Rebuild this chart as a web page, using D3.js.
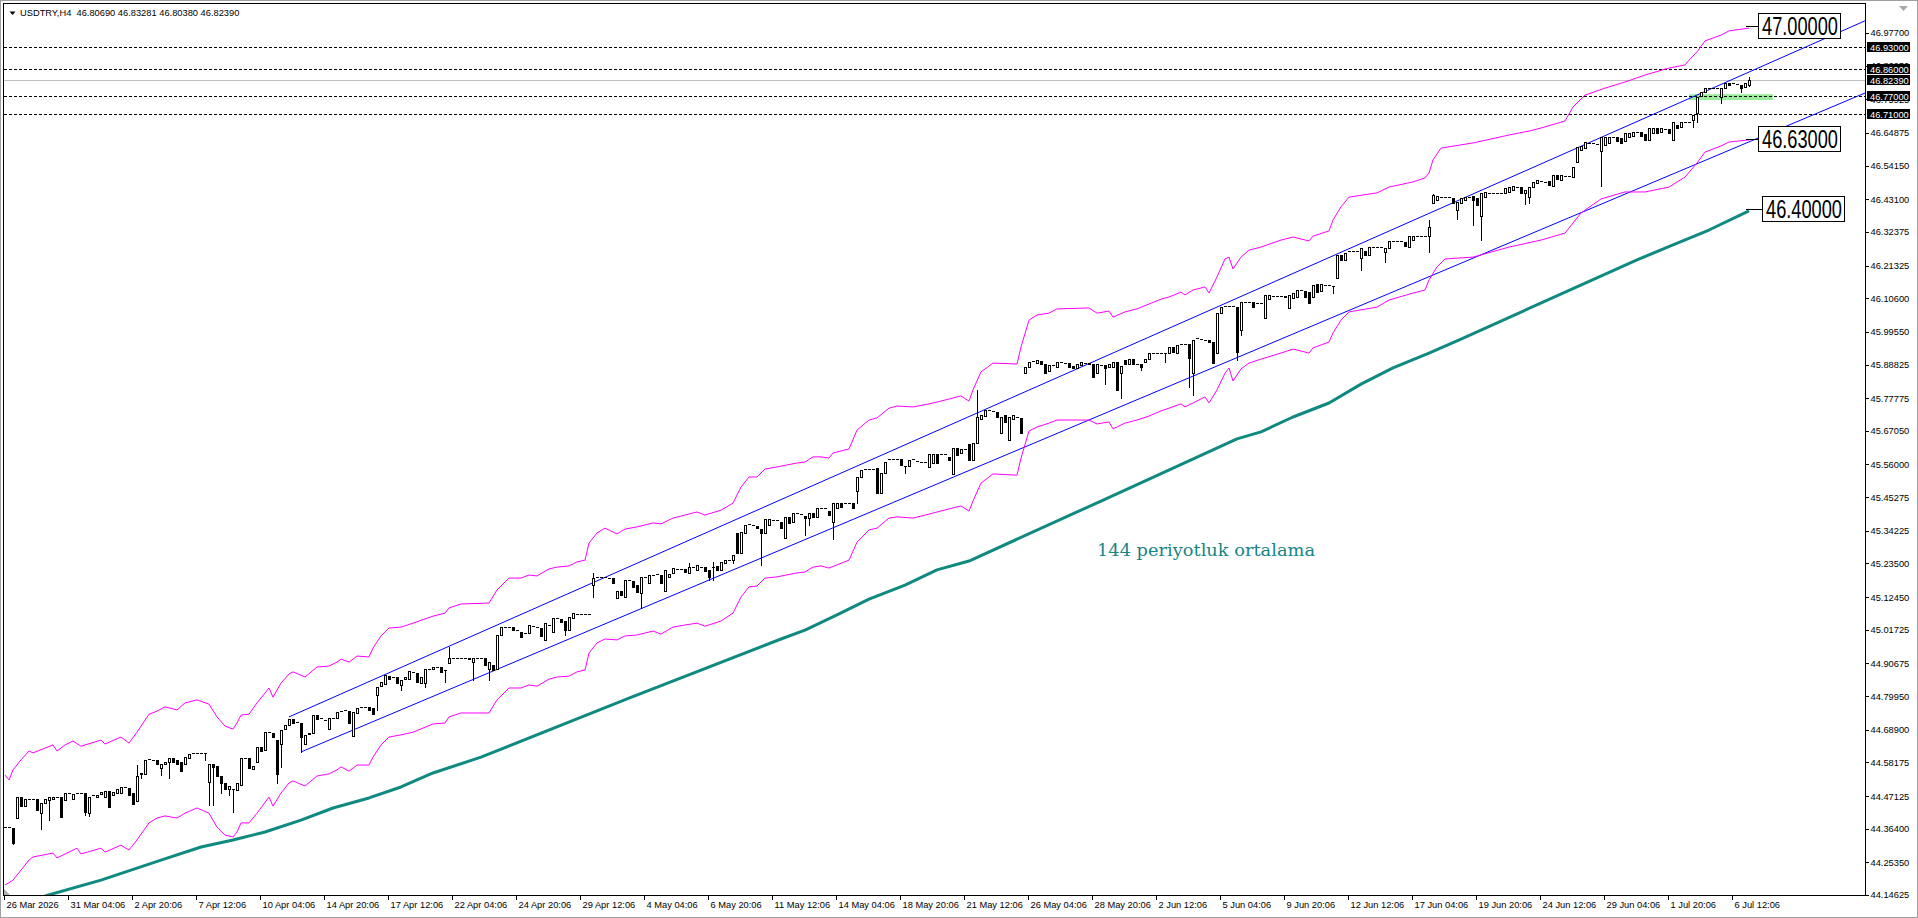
<!DOCTYPE html>
<html>
<head>
<meta charset="utf-8">
<script src="https://cdn.jsdelivr.net/npm/d3@7"></script>
<style>
  body { margin: 0; background: #fff; }
  svg { display: block; }
</style>
</head>
<body>
<div id="chart"></div>
<script>
// USDTRY H4

let symbolInfo = ['USDTRY,H4', 46.8069, 46.83281, 46.8038, 46.8239]

let timeLabels = ['26 Mar 2026', '31 Mar 04:06', '2 Apr 20:06', '7 Apr 12:06', '10 Apr 04:06', '14 Apr 20:06',
  '17 Apr 12:06', '22 Apr 04:06', '24 Apr 20:06', '29 Apr 12:06', '4 May 04:06', '6 May 20:06', '11 May 12:06',
  '14 May 04:06', '18 May 20:06', '21 May 12:06', '26 May 04:06', '28 May 20:06', '2 Jun 12:06', '5 Jun 04:06',
  '9 Jun 20:06', '12 Jun 12:06', '17 Jun 04:06', '19 Jun 20:06', '24 Jun 12:06', '29 Jun 04:06', '1 Jul 20:06',
  '6 Jul 12:06']
let timeLabelBars = timeLabels.map((d, k) => k * 16)

let priceTicks = [46.977, 46.8695, 46.75925, 46.64875, 46.5415, 46.431, 46.32375, 46.21325, 46.106, 45.9955,
  45.88825, 45.77775, 45.6705, 45.56, 45.45275, 45.34225, 45.235, 45.1245, 45.01725, 44.90675, 44.7995, 44.689,
  44.58175, 44.47125, 44.364, 44.2535, 44.14625]

// [open, close] per H4 bar
let bars = [
  [44.368, 44.370], [44.370, 44.368], [44.365, 44.318], [44.398, 44.467], [44.467, 44.438], [44.438, 44.460], [44.460, 44.461], [44.462, 44.463], [44.463, 44.427], [44.416, 44.449],
  [44.447, 44.460], [44.458, 44.469], [44.463, 44.469], [44.467, 44.467], [44.467, 44.403], [44.458, 44.480], [44.480, 44.480], [44.463, 44.477], [44.482, 44.482], [44.482, 44.481],
  [44.480, 44.420], [44.414, 44.469], [44.474, 44.476], [44.469, 44.474], [44.479, 44.485], [44.469, 44.489], [44.489, 44.434], [44.474, 44.485], [44.480, 44.493], [44.480, 44.502],
  [44.502, 44.502], [44.497, 44.474], [44.480, 44.445], [44.456, 44.537], [44.545, 44.546], [44.543, 44.589], [44.592, 44.592], [44.589, 44.590], [44.589, 44.578], [44.562, 44.576],
  [44.578, 44.584], [44.584, 44.595], [44.595, 44.584], [44.589, 44.578], [44.584, 44.554], [44.576, 44.598], [44.595, 44.609], [44.611, 44.611], [44.613, 44.612], [44.613, 44.613],
  [44.612, 44.611], [44.518, 44.578], [44.578, 44.567], [44.570, 44.537], [44.537, 44.515], [44.515, 44.493], [44.493, 44.504], [44.493, 44.493], [44.491, 44.515], [44.507, 44.595],
  [44.595, 44.595], [44.595, 44.562], [44.559, 44.570], [44.584, 44.633], [44.631, 44.620], [44.622, 44.682], [44.682, 44.682], [44.679, 44.664], [44.655, 44.545], [44.642, 44.688],
  [44.690, 44.704], [44.704, 44.723], [44.723, 44.712], [44.715, 44.715], [44.712, 44.666], [44.642, 44.671], [44.675, 44.679], [44.679, 44.737], [44.737, 44.723], [44.726, 44.726],
  [44.721, 44.721], [44.690, 44.726], [44.726, 44.727], [44.726, 44.748], [44.751, 44.751], [44.753, 44.753], [44.751, 44.710], [44.668, 44.748], [44.745, 44.759], [44.764, 44.764],
  [44.764, 44.764], [44.764, 44.753], [44.759, 44.740], [44.803, 44.830], [44.832, 44.846], [44.839, 44.868], [44.865, 44.857], [44.861, 44.861], [44.861, 44.841], [44.836, 44.852],
  [44.854, 44.863], [44.857, 44.883], [44.879, 44.879], [44.876, 44.846], [44.843, 44.863], [44.841, 44.890], [44.890, 44.890], [44.890, 44.896], [44.896, 44.896], [44.894, 44.879],
  [44.885, 44.885], [44.907, 44.926], [44.926, 44.926], [44.926, 44.926], [44.923, 44.923], [44.923, 44.923], [44.925, 44.920], [44.912, 44.926], [44.926, 44.926], [44.926, 44.926],
  [44.926, 44.900], [44.890, 44.910], [44.900, 44.885], [44.890, 45.000], [45.000, 45.027], [45.027, 45.027], [45.026, 45.025], [45.025, 45.016], [45.016, 45.016], [45.011, 44.995],
  [45.005, 45.005], [45.005, 45.033], [45.030, 45.030], [45.026, 45.025], [45.022, 44.997], [44.984, 45.038], [45.033, 45.033], [45.011, 45.055], [45.055, 45.055], [45.051, 45.044],
  [45.046, 45.016], [45.016, 45.060], [45.055, 45.071], [45.069, 45.069], [45.069, 45.069], [45.069, 45.069], [45.069, 45.069], [45.164, 45.186], [45.189, 45.189], [45.189, 45.189],
  [45.189, 45.189], [45.187, 45.186], [45.186, 45.170], [45.120, 45.146], [45.146, 45.132], [45.126, 45.181], [45.181, 45.181], [45.178, 45.159], [45.164, 45.142], [45.137, 45.192],
  [45.190, 45.190], [45.170, 45.197], [45.197, 45.197], [45.200, 45.200], [45.197, 45.170], [45.146, 45.213], [45.192, 45.200], [45.203, 45.219], [45.216, 45.216], [45.216, 45.216],
  [45.216, 45.208], [45.205, 45.225], [45.225, 45.225], [45.213, 45.230], [45.225, 45.225], [45.222, 45.211], [45.213, 45.192], [45.225, 45.225], [45.227, 45.213], [45.213, 45.241],
  [45.238, 45.246], [45.246, 45.246], [45.246, 45.263], [45.334, 45.268], [45.268, 45.339], [45.334, 45.361], [45.363, 45.363], [45.361, 45.361], [45.358, 45.350], [45.347, 45.334],
  [45.334, 45.380], [45.361, 45.380], [45.378, 45.378], [45.378, 45.378], [45.372, 45.350], [45.318, 45.389], [45.389, 45.369], [45.372, 45.400], [45.400, 45.400], [45.398, 45.397],
  [45.391, 45.383], [45.383, 45.400], [45.400, 45.389], [45.389, 45.416], [45.416, 45.416], [45.416, 45.416], [45.408, 45.394], [45.372, 45.432], [45.416, 45.435], [45.435, 45.421],
  [45.434, 45.434], [45.434, 45.434], [45.435, 45.416], [45.474, 45.518], [45.518, 45.542], [45.544, 45.544], [45.544, 45.544], [45.544, 45.544], [45.547, 45.468], [45.468, 45.533],
  [45.533, 45.569], [45.577, 45.577], [45.577, 45.577], [45.577, 45.577], [45.577, 45.558], [45.555, 45.555], [45.555, 45.575], [45.577, 45.577], [45.573, 45.573], [45.569, 45.569],
  [45.569, 45.569], [45.553, 45.594], [45.566, 45.594], [45.594, 45.566], [45.594, 45.594], [45.594, 45.594], [45.583, 45.575], [45.529, 45.613], [45.613, 45.591], [45.597, 45.610],
  [45.610, 45.610], [45.627, 45.575], [45.575, 45.630], [45.630, 45.717], [45.711, 45.722], [45.719, 45.739], [45.739, 45.739], [45.737, 45.737], [45.733, 45.715], [45.662, 45.715],
  [45.722, 45.701], [45.640, 45.715], [45.708, 45.722], [45.715, 45.715], [45.712, 45.662], [45.859, 45.881], [45.881, 45.897], [45.901, 45.901], [45.892, 45.903], [45.900, 45.890],
  [45.890, 45.859], [45.868, 45.886], [45.886, 45.886], [45.879, 45.897], [45.896, 45.896], [45.894, 45.894], [45.894, 45.881], [45.883, 45.876], [45.876, 45.890], [45.886, 45.897],
  [45.894, 45.894], [45.894, 45.890], [45.890, 45.848], [45.861, 45.890], [45.886, 45.886], [45.887, 45.876], [45.879, 45.890], [45.879, 45.897], [45.897, 45.805], [45.859, 45.883],
  [45.903, 45.890], [45.890, 45.905], [45.905, 45.890], [45.890, 45.890], [45.890, 45.881], [45.897, 45.908], [45.908, 45.925], [45.927, 45.927], [45.925, 45.925], [45.925, 45.925],
  [45.927, 45.927], [45.925, 45.945], [45.947, 45.930], [45.925, 45.952], [45.956, 45.956], [45.956, 45.956], [45.956, 45.909], [45.859, 45.969], [45.974, 45.974], [45.972, 45.972],
  [45.969, 45.969], [45.969, 45.963], [45.963, 45.892], [45.925, 46.058], [46.058, 46.078], [46.080, 46.080], [46.080, 46.080], [46.080, 46.080], [46.076, 45.930], [46.002, 46.095],
  [46.095, 46.095], [46.095, 46.095], [46.095, 46.078], [46.089, 46.089], [46.091, 46.091], [46.040, 46.117], [46.102, 46.117], [46.113, 46.113], [46.113, 46.113], [46.113, 46.113],
  [46.113, 46.109], [46.073, 46.117], [46.106, 46.122], [46.109, 46.133], [46.133, 46.133], [46.131, 46.111], [46.128, 46.091], [46.111, 46.150], [46.153, 46.128], [46.131, 46.153],
  [46.150, 46.150], [46.150, 46.150], [46.146, 46.146], [46.171, 46.248], [46.248, 46.232], [46.232, 46.255], [46.262, 46.262], [46.262, 46.262], [46.262, 46.262], [46.237, 46.270],
  [46.262, 46.248], [46.248, 46.275], [46.275, 46.275], [46.275, 46.275], [46.275, 46.275], [46.259, 46.270], [46.270, 46.295], [46.295, 46.295], [46.295, 46.295], [46.295, 46.295],
  [46.292, 46.277], [46.275, 46.310], [46.297, 46.310], [46.310, 46.310], [46.310, 46.310], [46.310, 46.310], [46.310, 46.339], [46.418, 46.445], [46.429, 46.442], [46.440, 46.439],
  [46.437, 46.437], [46.439, 46.439], [46.434, 46.420], [46.396, 46.423], [46.418, 46.434], [46.429, 46.439], [46.439, 46.439], [46.442, 46.429], [46.434, 46.412], [46.376, 46.450],
  [46.439, 46.456], [46.450, 46.450], [46.452, 46.452], [46.452, 46.452], [46.452, 46.452], [46.450, 46.467], [46.456, 46.472], [46.461, 46.474], [46.472, 46.472], [46.472, 46.452],
  [46.450, 46.461], [46.439, 46.472], [46.470, 46.489], [46.483, 46.494], [46.492, 46.492], [46.489, 46.489], [46.492, 46.478], [46.474, 46.511], [46.511, 46.496], [46.494, 46.511],
  [46.507, 46.507], [46.507, 46.507], [46.505, 46.536], [46.554, 46.602], [46.593, 46.606], [46.598, 46.620], [46.617, 46.617], [46.615, 46.615], [46.613, 46.613], [46.591, 46.637],
  [46.609, 46.637], [46.617, 46.637], [46.634, 46.634], [46.634, 46.623], [46.631, 46.617], [46.623, 46.650], [46.634, 46.650], [46.639, 46.653], [46.653, 46.653], [46.653, 46.639],
  [46.645, 46.626], [46.626, 46.664], [46.650, 46.664], [46.664, 46.650], [46.653, 46.664], [46.661, 46.661], [46.661, 46.650], [46.626, 46.686], [46.675, 46.664], [46.669, 46.686],
  [46.686, 46.686], [46.686, 46.686], [46.691, 46.708], [46.713, 46.768], [46.770, 46.784], [46.784, 46.795], [46.795, 46.795], [46.795, 46.795], [46.795, 46.795], [46.768, 46.795],
  [46.795, 46.812], [46.814, 46.806], [46.812, 46.812], [46.810, 46.810], [46.806, 46.795], [46.799, 46.814], [46.8069, 46.8239]
]

// long wicks [bar, price]
let highWicks = [[33, 44.573], [111, 44.961], [147, 45.203], [171, 45.237], [177, 45.241], [243, 45.805],
  [356, 46.363], [357, 46.448], [436, 46.83281]]
let lowWicks = [[2, 44.315], [9, 44.362], [11, 44.394], [20, 44.409], [21, 44.405], [34, 44.529], [39, 44.540],
  [41, 44.532], [50, 44.589], [51, 44.442], [52, 44.442], [54, 44.482], [56, 44.474], [57, 44.420], [68, 44.513],
  [69, 44.567], [74, 44.617], [93, 44.753], [99, 44.819], [105, 44.828], [110, 44.846], [117, 44.852], [121, 44.852],
  [140, 45.000], [147, 45.124], [159, 45.088], [176, 45.181], [177, 45.181], [182, 45.235], [189, 45.230],
  [200, 45.329], [201, 45.361], [207, 45.315], [213, 45.432], [225, 45.533], [275, 45.824], [279, 45.780],
  [284, 45.870], [290, 45.898], [296, 45.816], [297, 45.788], [308, 45.903], [309, 45.985], [332, 46.122],
  [339, 46.199], [345, 46.226], [356, 46.259], [363, 46.365], [367, 46.346], [369, 46.297], [380, 46.415],
  [381, 46.418], [399, 46.474], [422, 46.669], [423, 46.686], [429, 46.748], [434, 46.784], [436, 46.8038]]

// envelope bands [bar, price]
let envUpper = [[0, 44.540], [1, 44.524], [2, 44.557], [4, 44.590], [6, 44.619], [7, 44.613], [12, 44.639], [13, 44.619],
  [15, 44.639], [17, 44.652], [19, 44.635], [24, 44.655], [25, 44.642], [29, 44.665], [31, 44.645], [33, 44.681],
  [36, 44.740], [38, 44.750], [40, 44.764], [43, 44.754], [45, 44.777], [48, 44.787], [51, 44.773], [53, 44.731],
  [55, 44.701], [57, 44.691], [58, 44.711], [59, 44.737], [61, 44.740], [63, 44.777], [66, 44.826], [67, 44.796],
  [69, 44.842], [71, 44.872], [72, 44.879], [75, 44.862], [78, 44.895], [81, 44.898], [83, 44.911], [84, 44.921],
  [86, 44.911], [88, 44.931], [91, 44.928], [92, 44.957], [94, 44.997], [96, 45.023], [99, 45.026], [102, 45.039],
  [107, 45.062], [110, 45.072], [111, 45.089], [114, 45.102], [121, 45.105], [123, 45.148], [126, 45.187],
  [129, 45.187], [131, 45.197], [133, 45.194], [136, 45.217], [138, 45.223], [141, 45.227], [143, 45.240],
  [145, 45.246], [146, 45.302], [148, 45.335], [150, 45.351], [153, 45.332], [155, 45.348], [158, 45.355],
  [162, 45.368], [164, 45.365], [167, 45.384], [170, 45.394], [173, 45.404], [175, 45.394], [179, 45.410],
  [182, 45.433], [184, 45.486], [186, 45.519], [188, 45.519], [190, 45.545], [193, 45.552], [198, 45.565],
  [200, 45.568], [202, 45.585], [204, 45.585], [206, 45.581], [207, 45.598], [211, 45.611], [213, 45.673],
  [216, 45.706], [218, 45.713], [221, 45.745], [223, 45.752], [227, 45.749], [231, 45.759], [233, 45.765],
  [236, 45.775], [239, 45.785], [241, 45.768], [242, 45.805], [244, 45.864], [247, 45.893], [253, 45.890],
  [254, 45.946], [256, 46.034], [258, 46.051], [261, 46.057], [263, 46.071], [271, 46.074], [273, 46.057],
  [276, 46.064], [277, 46.044], [280, 46.061], [283, 46.071], [286, 46.087], [289, 46.103], [291, 46.110],
  [294, 46.126], [295, 46.117], [297, 46.133], [300, 46.143], [301, 46.123], [303, 46.176], [305, 46.235],
  [306, 46.241], [307, 46.202], [309, 46.241], [311, 46.264], [314, 46.274], [319, 46.297], [322, 46.307],
  [326, 46.294], [327, 46.310], [331, 46.327], [332, 46.363], [334, 46.406], [336, 46.438], [343, 46.452],
  [346, 46.471], [352, 46.488], [355, 46.501], [356, 46.517], [357, 46.560], [359, 46.599], [367, 46.616],
  [376, 46.642], [381, 46.655], [384, 46.665], [390, 46.688], [392, 46.734], [395, 46.773], [400, 46.796],
  [405, 46.816], [410, 46.839], [416, 46.862], [420, 46.872], [421, 46.888], [423, 46.915], [425, 46.951],
  [429, 46.970], [431, 46.984], [436, 46.993]]

let envLower = [[0, 44.179], [2, 44.195], [4, 44.228], [6, 44.261], [7, 44.271], [12, 44.284], [13, 44.268],
  [18, 44.300], [19, 44.281], [24, 44.300], [25, 44.287], [29, 44.310], [31, 44.294], [33, 44.327], [36, 44.383],
  [38, 44.399], [40, 44.406], [43, 44.399], [45, 44.415], [48, 44.432], [51, 44.415], [53, 44.369], [55, 44.343],
  [57, 44.337], [58, 44.353], [59, 44.383], [61, 44.383], [63, 44.415], [66, 44.468], [67, 44.438], [69, 44.481],
  [71, 44.514], [72, 44.521], [75, 44.504], [78, 44.537], [81, 44.544], [83, 44.557], [84, 44.567], [86, 44.553],
  [88, 44.573], [91, 44.573], [92, 44.599], [94, 44.639], [96, 44.665], [99, 44.672], [102, 44.681], [107, 44.708],
  [110, 44.711], [111, 44.731], [114, 44.744], [121, 44.744], [123, 44.787], [126, 44.826], [129, 44.826],
  [131, 44.836], [133, 44.832], [136, 44.855], [138, 44.862], [141, 44.865], [143, 44.879], [145, 44.885],
  [146, 44.941], [148, 44.974], [150, 44.987], [153, 44.984], [155, 44.997], [158, 45.000], [162, 45.013],
  [164, 45.003], [167, 45.026], [170, 45.033], [173, 45.039], [175, 45.029], [179, 45.046], [182, 45.072],
  [184, 45.125], [186, 45.158], [188, 45.161], [190, 45.187], [193, 45.191], [198, 45.204], [200, 45.207],
  [202, 45.223], [204, 45.227], [206, 45.220], [211, 45.246], [213, 45.305], [216, 45.345], [218, 45.351],
  [221, 45.384], [223, 45.388], [227, 45.384], [231, 45.397], [233, 45.404], [236, 45.414], [239, 45.424],
  [241, 45.407], [242, 45.440], [244, 45.499], [247, 45.529], [253, 45.525], [254, 45.581], [256, 45.670],
  [258, 45.683], [261, 45.696], [263, 45.706], [271, 45.706], [273, 45.693], [276, 45.700], [277, 45.677],
  [280, 45.696], [283, 45.706], [286, 45.719], [289, 45.736], [291, 45.745], [294, 45.759], [295, 45.749],
  [297, 45.762], [300, 45.782], [301, 45.762], [303, 45.805], [305, 45.860], [306, 45.877], [307, 45.834],
  [309, 45.874], [311, 45.893], [314, 45.906], [319, 45.926], [322, 45.939], [326, 45.926], [327, 45.943],
  [331, 45.962], [332, 45.992], [334, 46.034], [336, 46.061], [343, 46.077], [346, 46.100], [352, 46.123],
  [355, 46.133], [356, 46.166], [358, 46.209], [360, 46.235], [367, 46.241], [376, 46.274], [384, 46.297],
  [390, 46.320], [394, 46.386], [399, 46.432], [405, 46.455], [410, 46.455], [416, 46.471], [420, 46.504],
  [423, 46.550], [425, 46.586], [429, 46.606], [431, 46.619], [436, 46.626]]

// 144 period moving average [bar, price]
let ma144 = [[10, 44.143], [24, 44.195], [39, 44.261], [49, 44.304], [57, 44.327], [65, 44.353], [74, 44.392],
  [82, 44.432], [91, 44.465], [99, 44.501], [107, 44.547], [119, 44.599], [156, 44.793], [194, 44.987],
  [200, 45.016], [208, 45.066], [216, 45.118], [225, 45.164], [233, 45.214], [241, 45.243], [274, 45.440],
  [308, 45.644], [314, 45.667], [322, 45.716], [331, 45.762], [339, 45.824], [347, 45.877], [356, 45.926],
  [364, 45.972], [408, 46.232], [417, 46.281], [426, 46.330], [436, 46.393]]

// drawn objects
let channelUpper = [[71, 44.731], [359, 46.402]]
let channelLower = [[74, 44.616], [366, 46.232]]
let levelLines = [46.93, 46.86, 46.77, 46.71]
let bidPrice = 46.8239
let axisPriceBoxes = [46.93, 46.86, 46.8239, 46.77, 46.71]
let zoneBars = [421, 442]
let zonePrices = [46.757, 46.776]
let priceLabels = [47.0, 46.63, 46.40]
let priceLabelBars = [439, 439, 440]
let maLabel = '144 periyotluk ortalama'
let maLabelAnchor = [273, 45.26]

let sans = '"Liberation Sans", Arial, sans-serif'

let width = 1918
let height = 918
let plot = { left: 3.5, top: 3.5, right: 1865.5, bottom: 895.5 }

let x = d3.scaleLinear().domain([0, 436]).range([5, 1749])
let y = d3.scaleLinear().domain([44.14625, 46.977]).range([895, 33])

let svg = d3
  .select('#chart')
  .append('svg')
  .attr('width', width)
  .attr('height', height)
  .attr('font-family', sans)

svg.append('rect')
  .attr('x', 0.5).attr('y', 0.5)
  .attr('width', width - 1).attr('height', height - 1)
  .attr('fill', '#fff').attr('stroke', '#a0a0a0')

svg.append('defs').append('clipPath').attr('id', 'clip')
  .append('rect')
  .attr('x', 4).attr('y', 4)
  .attr('width', plot.right - 4).attr('height', plot.bottom - 4)

let chart = svg.append('g').attr('clip-path', 'url(#clip)')

// green zone
chart.append('rect')
  .attr('x', x(zoneBars[0])).attr('y', y(zonePrices[1]))
  .attr('width', x(zoneBars[1]) - x(zoneBars[0]))
  .attr('height', y(zonePrices[0]) - y(zonePrices[1]))
  .attr('fill', '#98ec98')

// bid line + dashed levels
chart.append('line')
  .attr('x1', 4).attr('x2', plot.right)
  .attr('y1', Math.round(y(bidPrice)) + 0.5).attr('y2', Math.round(y(bidPrice)) + 0.5)
  .attr('stroke', '#c0c0c0')

chart.selectAll('.level')
  .data(levelLines)
  .enter()
  .append('line')
  .attr('class', 'level')
  .attr('x1', 4).attr('x2', plot.right)
  .attr('y1', d => Math.round(y(d)) + 0.5)
  .attr('y2', d => Math.round(y(d)) + 0.5)
  .attr('stroke', '#000')
  .attr('stroke-dasharray', '3,2')

// channel lines drawn as rays to the right edge
function ray(pts) {
  let x1 = x(pts[0][0]), y1 = y(pts[0][1])
  let x2 = x(pts[1][0]), y2 = y(pts[1][1])
  let k = (y2 - y1) / (x2 - x1)
  return [x1, y1, plot.right, y1 + k * (plot.right - x1)]
}

chart.selectAll('.channel')
  .data([channelUpper, channelLower].map(ray))
  .enter()
  .append('line')
  .attr('class', 'channel')
  .attr('x1', d => d[0]).attr('y1', d => d[1])
  .attr('x2', d => d[2]).attr('y2', d => d[3])
  .attr('stroke', '#0000ff')
  .attr('stroke-width', 1)

let line = d3.line()
  .x(d => x(d[0]))
  .y(d => y(d[1]))

chart.selectAll('.env')
  .data([envUpper, envLower])
  .enter()
  .append('path')
  .attr('class', 'env')
  .attr('d', line)
  .attr('fill', 'none')
  .attr('stroke', '#ff00ff')
  .attr('stroke-width', 1)

chart.append('path')
  .attr('d', line(ma144))
  .attr('fill', 'none')
  .attr('stroke', '#0f8a80')
  .attr('stroke-width', 3)
  .attr('stroke-linejoin', 'round')

// candles
let highMap = new Map(highWicks)
let lowMap = new Map(lowWicks)

let candles = bars.map((b, i) => {
  let top = Math.max(b[0], b[1])
  let bottom = Math.min(b[0], b[1])
  return {
    i: i,
    up: b[1] >= b[0],
    top: top,
    bottom: bottom,
    high: highMap.has(i) ? highMap.get(i) : top,
    low: lowMap.has(i) ? lowMap.get(i) : bottom
  }
})

let candleG = chart.append('g').attr('shape-rendering', 'crispEdges')

candleG.selectAll('.candle')
  .data(candles)
  .enter()
  .append('g')
  .attr('class', 'candle')
  .each(function(d) {
    let g = d3.select(this)
    let cx = Math.round(x(d.i))
    let yh = Math.round(y(d.high))
    let yl = Math.round(y(d.low))
    let yt = Math.round(y(d.top))
    let yb = Math.round(y(d.bottom))
    g.append('rect')
      .attr('x', cx).attr('y', yh)
      .attr('width', 1).attr('height', Math.max(1, yl - yh + 1))
      .attr('fill', '#000')
    g.append('rect')
      .attr('x', cx - 1).attr('y', yt)
      .attr('width', 3).attr('height', Math.max(1, yb - yt + 1))
      .attr('fill', '#000')
    if (d.up && yb - yt >= 2) {
      g.append('rect')
        .attr('x', cx).attr('y', yt + 1)
        .attr('width', 1).attr('height', yb - yt - 1)
        .attr('fill', '#fff')
    }
  })

// ma label
chart.append('text')
  .attr('x', x(maLabelAnchor[0]))
  .attr('y', y(maLabelAnchor[1]))
  .attr('fill', '#178582')
  .attr('font-family', '"DejaVu Serif", serif')
  .attr('font-size', 16)
  .attr('textLength', 218)
  .attr('lengthAdjust', 'spacingAndGlyphs')
  .text(maLabel)

// frame of the plot
svg.append('path')
  .attr('d', `M${plot.left},${plot.bottom}V${plot.top}H${plot.right}V${plot.bottom}H${plot.left}`)
  .attr('fill', 'none')
  .attr('stroke', '#000')
  .attr('shape-rendering', 'crispEdges')

// right price axis
let yAxis = d3.axisRight(y)
  .tickValues(priceTicks)
  .tickFormat(d3.format('.5f'))
  .tickSizeInner(3)
  .tickSizeOuter(0)
  .tickPadding(2)

let yAxisG = svg.append('g')
  .attr('transform', `translate(${plot.right},0)`)
  .call(yAxis)
yAxisG.select('.domain').remove()
yAxisG.selectAll('line').attr('stroke', '#000').attr('shape-rendering', 'crispEdges')
yAxisG.selectAll('text')
  .attr('font-family', sans)
  .attr('font-size', 9.3)
  .attr('fill', '#000')

// bottom time axis
let xAxis = d3.axisBottom(x)
  .tickValues(timeLabelBars)
  .tickFormat((d, k) => timeLabels[k])
  .tickSizeInner(4)
  .tickSizeOuter(0)

let xAxisG = svg.append('g')
  .attr('transform', `translate(-1,${plot.bottom})`)
  .call(xAxis)
xAxisG.select('.domain').remove()
xAxisG.selectAll('line').attr('stroke', '#000').attr('shape-rendering', 'crispEdges')
xAxisG.selectAll('text')
  .attr('text-anchor', 'start')
  .attr('x', 2)
  .attr('y', 12)
  .attr('dy', 0)
  .attr('font-family', sans)
  .attr('font-size', 9.3)
  .attr('fill', '#000')

// price boxes on the axis
let boxes = svg.selectAll('.pbox')
  .data(axisPriceBoxes)
  .enter()
  .append('g')
  .attr('class', 'pbox')
  .attr('transform', d => `translate(1867,${Math.round(y(d))})`)
boxes.append('rect')
  .attr('x', 0).attr('y', -5)
  .attr('width', 43).attr('height', 10)
  .attr('fill', '#000')
  .attr('shape-rendering', 'crispEdges')
boxes.append('text')
  .attr('x', 3).attr('y', 3.5)
  .attr('font-size', 9.3)
  .attr('fill', '#fff')
  .text(d => d3.format('.5f')(d))

// large price labels
let labels = svg.selectAll('.plabel')
  .data(priceLabels)
  .enter()
  .append('g')
  .attr('class', 'plabel')
labels.append('line')
  .attr('x1', x(436) - 3)
  .attr('x2', (d, k) => Math.round(x(priceLabelBars[k])) - 2.5)
  .attr('y1', d => Math.round(y(d)) + 0.5)
  .attr('y2', d => Math.round(y(d)) + 0.5)
  .attr('stroke', '#000')
labels.append('rect')
  .attr('x', (d, k) => Math.round(x(priceLabelBars[k])) - 2.5)
  .attr('y', d => Math.round(y(d)) - 12.5)
  .attr('width', 82).attr('height', 25)
  .attr('fill', '#fff')
  .attr('stroke', '#000')
labels.append('text')
  .attr('x', (d, k) => Math.round(x(priceLabelBars[k])) + 1)
  .attr('y', d => Math.round(y(d)) + 9)
  .attr('font-size', 25)
  .attr('textLength', 76)
  .attr('lengthAdjust', 'spacingAndGlyphs')
  .attr('fill', '#000')
  .text(d => d3.format('.5f')(d))

// header
svg.append('path').attr('d', 'M9.5,11.5H15.5L12.5,15Z').attr('fill', '#000')
svg.append('text')
  .attr('x', 20).attr('y', 16)
  .attr('font-size', 9.3)
  .attr('fill', '#000')
  .attr('xml:space', 'preserve')
  .text(symbolInfo[0] + '  ' + symbolInfo.slice(1).map(d => d3.format('.5f')(d)).join(' '))

// small markers
svg.append('path').attr('d', 'M4,889L4,895L10,895Z').attr('fill', '#b0b0b0')
svg.append('path').attr('d', 'M1899,6H1908L1903.5,11Z').attr('fill', '#a8a8a8')
</script>
</body>
</html>
